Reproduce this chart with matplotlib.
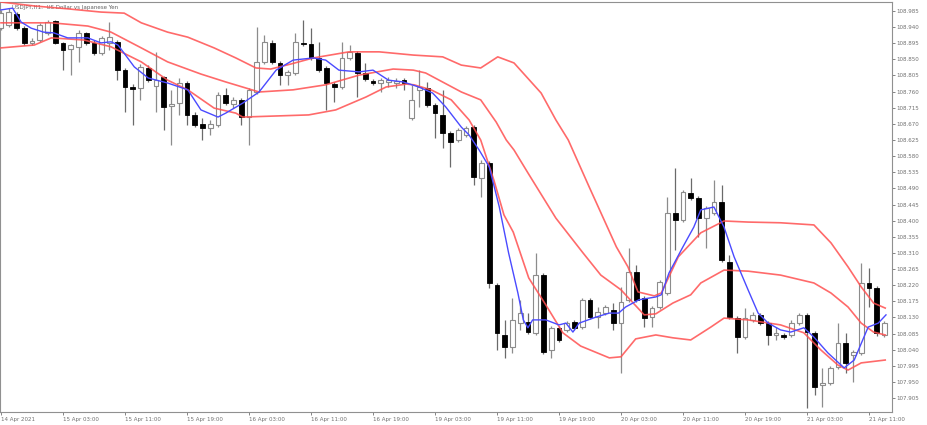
import matplotlib
matplotlib.use('Agg')
import matplotlib.pyplot as plt
import numpy as np

# USDJPY H1, 14 Apr 19:00 .. 21 Apr 13:00 (115 bars)
opens = [108.937, 108.946, 108.977, 108.937, 108.896, 108.904, 108.924, 108.957, 108.896, 108.879,
         108.885, 108.924, 108.896, 108.868, 108.896, 108.899, 108.820, 108.773, 108.770, 108.826,
         108.776, 108.801, 108.720, 108.728, 108.784, 108.695, 108.670, 108.659, 108.667, 108.751,
         108.725, 108.737, 108.689, 108.759, 108.843, 108.896, 108.840, 108.806, 108.812, 108.896,
         108.893, 108.854, 108.826, 108.781, 108.773, 108.854, 108.868, 108.812, 108.790, 108.784,
         108.787, 108.784, 108.792, 108.686, 108.765, 108.770, 108.723, 108.695, 108.645, 108.625,
         108.639, 108.661, 108.519, 108.561, 108.220, 108.081, 108.047, 108.114, 108.117, 108.087,
         108.248, 108.039, 108.101, 108.095, 108.117, 108.103, 108.179, 108.131, 108.142, 108.151,
         108.114, 108.179, 108.257, 108.184, 108.131, 108.159, 108.198, 108.421, 108.402, 108.477,
         108.463, 108.407, 108.421, 108.452, 108.285, 108.128, 108.075, 108.123, 108.137, 108.114,
         108.081, 108.081, 108.081, 108.114, 108.137, 108.087, 107.942, 107.947, 107.992, 108.059,
         108.025, 108.031, 108.226, 108.212, 108.081]
highs = [108.988, 108.993, 108.982, 108.943, 108.910, 108.952, 108.960, 108.960, 108.899, 108.893,
         108.932, 108.926, 108.904, 108.915, 108.954, 108.904, 108.826, 108.781, 108.837, 108.834,
         108.871, 108.804, 108.765, 108.798, 108.790, 108.703, 108.686, 108.681, 108.759, 108.770,
         108.745, 108.742, 108.770, 108.940, 108.918, 108.904, 108.846, 108.820, 108.924, 108.960,
         108.937, 108.899, 108.832, 108.787, 108.899, 108.890, 108.873, 108.840, 108.795, 108.798,
         108.801, 108.798, 108.798, 108.779, 108.820, 108.787, 108.728, 108.765, 108.650, 108.659,
         108.664, 108.667, 108.569, 108.566, 108.226, 108.123, 108.184, 108.179, 108.142, 108.310,
         108.254, 108.106, 108.106, 108.120, 108.123, 108.184, 108.184, 108.159, 108.165, 108.170,
         108.215, 108.324, 108.276, 108.190, 108.162, 108.234, 108.466, 108.547, 108.486, 108.519,
         108.469, 108.441, 108.513, 108.500, 108.304, 108.134, 108.156, 108.145, 108.142, 108.120,
         108.103, 108.087, 108.123, 108.142, 108.142, 108.092, 107.989, 107.995, 108.114, 108.087,
         108.039, 108.282, 108.268, 108.218, 108.120]
lows = [108.932, 108.940, 108.932, 108.890, 108.890, 108.899, 108.918, 108.893, 108.820, 108.806,
        108.843, 108.890, 108.862, 108.862, 108.876, 108.792, 108.703, 108.667, 108.737, 108.787,
        108.703, 108.653, 108.611, 108.695, 108.667, 108.661, 108.625, 108.639, 108.661, 108.723,
        108.714, 108.667, 108.611, 108.753, 108.837, 108.837, 108.779, 108.779, 108.806, 108.887,
        108.848, 108.815, 108.709, 108.731, 108.767, 108.848, 108.745, 108.790, 108.779, 108.759,
        108.773, 108.770, 108.765, 108.681, 108.717, 108.717, 108.631, 108.603, 108.550, 108.620,
        108.633, 108.500, 108.466, 108.212, 108.039, 108.017, 108.031, 108.095, 108.084, 108.081,
        108.028, 108.017, 108.061, 108.089, 108.095, 108.098, 108.126, 108.101, 108.137, 108.095,
        107.975, 108.173, 108.173, 108.103, 108.103, 108.154, 108.193, 108.318, 108.396, 108.458,
        108.354, 108.324, 108.416, 108.285, 108.126, 108.031, 108.070, 108.117, 108.109, 108.053,
        108.067, 108.070, 108.075, 108.109, 107.877, 107.914, 107.880, 107.942, 107.986, 107.975,
        107.950, 108.025, 108.159, 108.078, 108.075]
closes = [108.979, 108.982, 108.937, 108.896, 108.901, 108.946, 108.954, 108.896, 108.876, 108.890,
          108.924, 108.896, 108.868, 108.910, 108.912, 108.820, 108.773, 108.767, 108.829, 108.792,
          108.792, 108.717, 108.725, 108.784, 108.695, 108.667, 108.659, 108.670, 108.751, 108.728,
          108.737, 108.689, 108.765, 108.843, 108.899, 108.843, 108.806, 108.815, 108.899, 108.893,
          108.854, 108.820, 108.784, 108.773, 108.854, 108.871, 108.812, 108.795, 108.784, 108.792,
          108.792, 108.790, 108.784, 108.737, 108.773, 108.723, 108.700, 108.645, 108.620, 108.653,
          108.659, 108.522, 108.561, 108.226, 108.087, 108.047, 108.123, 108.142, 108.089, 108.248,
          108.034, 108.101, 108.067, 108.114, 108.101, 108.179, 108.131, 108.145, 108.159, 108.114,
          108.173, 108.257, 108.179, 108.128, 108.156, 108.229, 108.421, 108.402, 108.480, 108.463,
          108.407, 108.435, 108.452, 108.290, 108.131, 108.075, 108.128, 108.137, 108.114, 108.081,
          108.087, 108.075, 108.114, 108.137, 108.089, 107.936, 107.947, 107.989, 108.059, 108.003,
          108.034, 108.226, 108.212, 108.087, 108.114]

# blue moving average (bar position, price)
ma_x = [0, 1.5, 2.6, 3.9, 5.5, 6.8, 8.6, 11.2, 12.9, 14.2, 15.1, 17.2, 19.0, 21.5, 24.1, 25.8, 28.0,
        29.0, 31.2, 33.3, 35.5, 37.7, 40.3, 41.9, 43.6, 46.2, 48.0, 50.0, 51.9, 53.9, 55.7, 57.4,
        59.4, 60.4, 61.7, 63.0, 64.3, 65.5, 66.7, 67.4, 68.0, 68.6, 70.3, 72.0, 72.9, 73.8, 74.6,
        76.8, 78.5, 79.7, 80.6, 82.3, 84.5, 85.2, 86.2, 88.0, 89.4, 90.3, 92.0, 93.3, 94.6, 96.4,
        97.7, 99.0, 100.6, 101.9, 103.6, 104.9, 106.7, 108.8, 110.1, 111.9, 113.2, 114.2]
ma_y = [108.988, 108.993, 108.954, 108.937, 108.926, 108.924, 108.910, 108.910, 108.896, 108.899,
        108.890, 108.829, 108.798, 108.784, 108.765, 108.709, 108.689, 108.700, 108.728, 108.759,
        108.820, 108.848, 108.854, 108.848, 108.820, 108.815, 108.820, 108.792, 108.787, 108.773,
        108.756, 108.717, 108.661, 108.639, 108.597, 108.550, 108.438, 108.310, 108.198, 108.123,
        108.101, 108.123, 108.123, 108.109, 108.114, 108.089, 108.114, 108.131, 108.142, 108.142,
        108.159, 108.179, 108.187, 108.193, 108.254, 108.327, 108.382, 108.430, 108.438, 108.382,
        108.299, 108.207, 108.142, 108.114, 108.095, 108.089, 108.101, 108.075, 108.031, 107.989,
        108.011, 108.103, 108.114, 108.137]

# Bollinger bands
upper_x = [0, 4.3, 8.6, 12.9, 15.9, 18.1, 21.5, 24.1, 27.5, 30.3, 32.9, 34.8, 37.4, 40.3, 44.9, 48.8,
           53.2, 57.0, 59.4, 61.9, 64.1, 66.2, 69.7, 71.6, 73.2, 75.9, 79.4, 80.9, 82.2, 84.3, 85.2,
           87.4, 90.3, 93.3, 96.4, 100.6, 104.9, 107.1, 109.3, 111.0, 112.6, 114.1]
upper_y = [109.010, 108.999, 108.991, 108.982, 108.979, 108.952, 108.926, 108.912, 108.882, 108.854,
           108.826, 108.823, 108.837, 108.854, 108.871, 108.871, 108.862, 108.857, 108.834, 108.826,
           108.857, 108.840, 108.756, 108.681, 108.625, 108.494, 108.327, 108.271, 108.201, 108.190,
           108.198, 108.299, 108.366, 108.399, 108.396, 108.394, 108.388, 108.338, 108.271, 108.215,
           108.170, 108.156]
mid_x = [0, 6.5, 11.2, 14.2, 18.1, 21.5, 25.8, 29.0, 33.3, 37.7, 41.9, 46.2, 50.6, 53.2, 54.8, 59.4,
         61.9, 63.9, 65.2, 66.2, 68.0, 71.6, 75.1, 77.4, 80.0, 83.0, 84.5, 86.7, 89.0, 90.3, 93.3,
         96.4, 100.6, 104.9, 107.1, 109.3, 111.0, 112.6, 114.1]
mid_y = [108.952, 108.952, 108.943, 108.926, 108.882, 108.843, 108.809, 108.787, 108.759, 108.765,
         108.779, 108.806, 108.823, 108.820, 108.812, 108.759, 108.737, 108.675, 108.625, 108.597,
         108.533, 108.407, 108.310, 108.248, 108.207, 108.137, 108.140, 108.170, 108.193, 108.226,
         108.262, 108.259, 108.248, 108.226, 108.198, 108.159, 108.114, 108.089, 108.081]
lower_x = [0, 4.3, 6.5, 10.7, 14.2, 18.1, 21.5, 24.1, 27.5, 30.3, 31.2, 39.7, 43.2, 47.1, 49.7, 52.3,
           53.3, 55.5, 58.1, 60.4, 61.9, 63.6, 64.9, 66.1, 68.1, 70.3, 72.5, 74.8, 78.5, 80.0, 81.9,
           84.5, 86.7, 89.0, 91.6, 93.3, 96.4, 100.6, 103.6, 105.8, 108.0, 109.3, 111.0, 114.1]
lower_y = [108.882, 108.890, 108.910, 108.904, 108.885, 108.843, 108.792, 108.765, 108.714, 108.700,
           108.689, 108.695, 108.709, 108.745, 108.773, 108.781, 108.779, 108.765, 108.737, 108.681,
           108.625, 108.513, 108.416, 108.368, 108.240, 108.165, 108.087, 108.050, 108.017, 108.020,
           108.070, 108.081, 108.073, 108.067, 108.103, 108.128, 108.123, 108.109, 108.087, 108.039,
           107.997, 107.983, 108.003, 108.011]

y_ticks = [108.985, 108.940, 108.895, 108.850, 108.805, 108.760, 108.715, 108.670, 108.625,
           108.580, 108.535, 108.490, 108.445, 108.400, 108.355, 108.310, 108.265, 108.220,
           108.175, 108.130, 108.085, 108.040, 107.995, 107.950, 107.905]
x_tick_bars = [0, 8, 16, 24, 32, 40, 48, 56, 64, 72, 80, 88, 96, 104, 112]
x_tick_labels = ['14 Apr 2021', '15 Apr 03:00', '15 Apr 11:00', '15 Apr 19:00', '16 Apr 03:00',
                 '16 Apr 11:00', '16 Apr 19:00', '19 Apr 03:00', '19 Apr 11:00', '19 Apr 19:00',
                 '20 Apr 03:00', '20 Apr 11:00', '20 Apr 19:00', '21 Apr 03:00', '21 Apr 11:00']

fig = plt.figure(figsize=(9.27, 4.25), dpi=100)
ax = fig.add_axes([0.0, 0.0306, 0.9622, 0.9647])

o = np.array(opens)
h = np.array(highs)
l = np.array(lows)
c = np.array(closes)
x = np.arange(len(o))
up = c >= o

# тени
ax.vlines(x[up], l[up], h[up], color='#8c8c8c', linewidth=0.9, zorder=2)
ax.vlines(x[~up], l[~up], h[~up], color='#6a6a6a', linewidth=0.9, zorder=2)

# тела свечей
body = np.maximum(np.abs(c - o), 0.0015)
bottom = np.minimum(o, c)
ax.bar(x[up], body[up], bottom=bottom[up], width=0.62, color='white',
       edgecolor='#8c8c8c', linewidth=0.8, zorder=3)
ax.bar(x[~up], body[~up], bottom=bottom[~up], width=0.62, color='black',
       edgecolor='black', linewidth=0.6, zorder=3)

# индикаторы
band_color = '#ff5050'
ax.plot(upper_x, upper_y, color=band_color, linewidth=1.2, alpha=0.85, zorder=4)
ax.plot(mid_x, mid_y, color=band_color, linewidth=1.2, alpha=0.85, zorder=4)
ax.plot(lower_x, lower_y, color=band_color, linewidth=1.2, alpha=0.85, zorder=4)
ax.plot(ma_x, ma_y, color='#4a4aff', linewidth=1.0, zorder=5)

ax.set_xlim(-0.13, 114.97)
ax.set_ylim(107.866, 109.0101)

ax.yaxis.tick_right()
ax.set_yticks(y_ticks)
ax.set_yticklabels(['%.3f' % v for v in y_ticks])
ax.set_xticks(x_tick_bars)
ax.set_xticklabels(x_tick_labels, ha='left')
ax.tick_params(axis='both', labelsize=4, colors='#707070', length=2, width=0.6, pad=1.5)

for s in ax.spines.values():
    s.set_color('#909090')
    s.set_linewidth(0.8)

ax.text(0.014, 0.992, 'USDJPY,H1:  US Dollar vs Japanese Yen', transform=ax.transAxes,
        fontsize=4, color='#606060', ha='left', va='top')

fig.savefig('out.png', dpi=100, facecolor='white')
